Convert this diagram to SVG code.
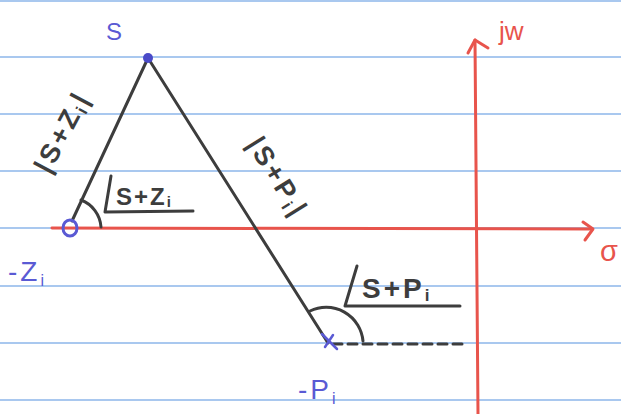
<svg xmlns="http://www.w3.org/2000/svg" width="621" height="414" viewBox="0 0 621 414">
<style>
.rule{stroke:#8db6ea;stroke-width:1.5}
.red{stroke:#e8544c;fill:none;stroke-width:3;stroke-linecap:round;stroke-linejoin:round}
.ink{stroke:#3d3d3d;fill:none;stroke-width:3;stroke-linecap:round;stroke-linejoin:round}
.blue{fill:#5a5ad4;font-family:"Liberation Sans",Arial,sans-serif}
.dark{fill:#3d3d3d;font-family:"Liberation Sans",Arial,sans-serif;font-weight:bold}
.redt{fill:#e8544c;font-family:"Liberation Sans",Arial,sans-serif}
</style>
<rect width="621" height="414" fill="#ffffff"/>
<g id="paper">
<line class="rule" x1="0" y1="1" x2="621" y2="1"/>
<line class="rule" x1="0" y1="57" x2="621" y2="57"/>
<line class="rule" x1="0" y1="114" x2="621" y2="114"/>
<line class="rule" x1="0" y1="171" x2="621" y2="171"/>
<line class="rule" x1="0" y1="228" x2="621" y2="228"/>
<line class="rule" x1="0" y1="286" x2="621" y2="286"/>
<line class="rule" x1="0" y1="343" x2="621" y2="343"/>
<line class="rule" x1="0" y1="400" x2="621" y2="400"/>
</g>
<g id="axes">
<line class="red" x1="52" y1="228" x2="592" y2="229"/>
<path class="red" d="M583,222 L593,229 L585,240"/>
<text class="redt" x="600" y="261" font-size="29">σ</text>
<line class="red" x1="475" y1="40" x2="478" y2="414"/>
<path class="red" d="M468,53 L475,40 L488,48"/>
<text class="redt" x="499" y="40" font-size="26">jw</text>
</g>
<g id="connectors">
<line class="ink" x1="72" y1="221" x2="148" y2="58"/>
<line class="ink" x1="148" y1="58" x2="328" y2="343"/>
<path class="ink" d="M333,344 L462,344" stroke-width="4" stroke-dasharray="9 6"/>
<path class="ink" d="M81,200 A31,31 0 0 1 101,227"/>
<path class="ink" d="M310,311 A37,37 0 0 1 363,341"/>
</g>
<g id="node-s">
<circle cx="148" cy="58" r="5" fill="#4a4ac8"/>
<text class="blue" x="106" y="40" font-size="24">S</text>
</g>
<g id="node-zero">
<ellipse cx="70" cy="228" rx="7" ry="8" fill="none" stroke="#5a5ad4" stroke-width="3"/>
<text class="blue" x="8" y="281" font-size="28" letter-spacing="3">-Z<tspan font-size="16" dy="5">i</tspan></text>
</g>
<g id="node-pole">
<path d="M322,334 L337,349 M333,335 L325,347" stroke="#5a5ad4" stroke-width="2.5" fill="none" stroke-linecap="round"/>
<text class="blue" x="298" y="399" font-size="28" letter-spacing="3">-P<tspan font-size="16" dy="5">i</tspan></text>
</g>
<g id="label-sz-mag">
<text class="dark" font-size="27" letter-spacing="3" transform="translate(70,136) rotate(-62)" text-anchor="middle">|S+Z<tspan font-size="17" dy="4">i</tspan><tspan dy="-4">|</tspan></text>
</g>
<g id="label-sp-mag">
<text class="dark" font-size="27" letter-spacing="3" transform="translate(270,182) rotate(58)" text-anchor="middle">|S+P<tspan font-size="17" dy="4">i</tspan><tspan dy="-4">|</tspan></text>
</g>
<g id="label-sz-angle">
<path class="ink" d="M111,176 L105,212 L193,211"/>
<text class="dark" x="116" y="205" font-size="24" letter-spacing="2">S+Z<tspan font-size="15" dy="2">i</tspan></text>
</g>
<g id="label-sp-angle">
<path class="ink" d="M357,266 L345,306 L460,306"/>
<text class="dark" x="362" y="298" font-size="28" letter-spacing="3">S+P<tspan font-size="17" dy="3">i</tspan></text>
</g>
</svg>
